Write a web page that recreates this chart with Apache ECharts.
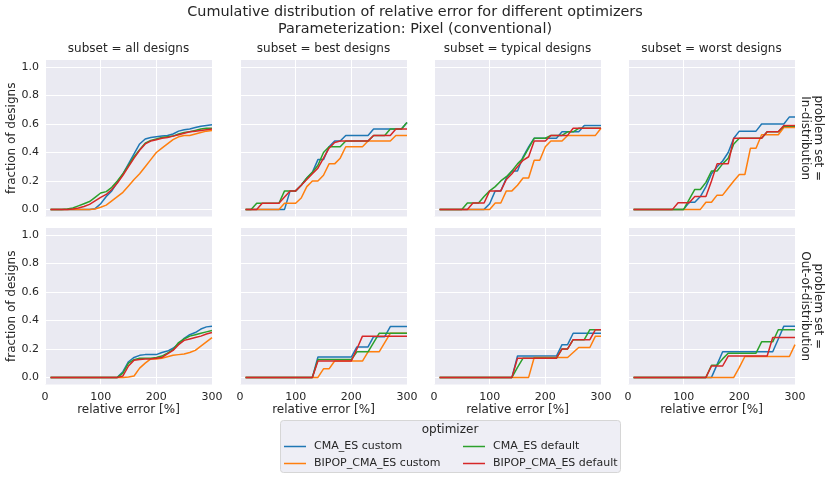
<!DOCTYPE html>
<html><head><meta charset="utf-8">
<script src="https://cdn.jsdelivr.net/npm/echarts@6/dist/echarts.min.js"></script>
<style>html,body{margin:0;padding:0;background:#fff}#c{width:830px;height:479px}</style>
</head><body><div id="c"></div>
<script>
const relErr = [10,20,30,40,50,60,70,80,90,100,110,120,130,140,150,160,170,180,190,200,210,220,230,240,250,260,270,280,290,300];
const optimizers = ['CMA_ES custom','BIPOP_CMA_ES custom','CMA_ES default','BIPOP_CMA_ES default'];
const subsets = ['subset = all designs','subset = best designs','subset = typical designs','subset = worst designs'];
const problemSets = ['In-distribution','Out-of-distribution'];
const xTicks = [0,100,200,300];
const yTicks = [0,0.2,0.4,0.6,0.8,1.0];

// In-distribution
const inAll_cmaCustom   = [0,0,0,0,0,0,0,0,0.005,0.04,0.09,0.13,0.19,0.25,0.32,0.39,0.46,0.495,0.505,0.51,0.515,0.52,0.53,0.55,0.56,0.565,0.575,0.585,0.59,0.595];
const inAll_bipopCustom = [0,0,0,0,0,0,0,0,0.003,0.015,0.03,0.06,0.09,0.12,0.165,0.21,0.25,0.3,0.35,0.4,0.43,0.46,0.49,0.51,0.52,0.52,0.53,0.54,0.55,0.555];
const inAll_cmaDefault  = [0,0,0,0.003,0.01,0.025,0.04,0.055,0.085,0.115,0.125,0.155,0.2,0.25,0.31,0.37,0.42,0.465,0.485,0.495,0.505,0.51,0.515,0.53,0.54,0.545,0.555,0.565,0.57,0.57];
const inAll_bipopDefault= [0,0,0,0,0.003,0.01,0.02,0.035,0.06,0.085,0.105,0.14,0.185,0.24,0.3,0.36,0.415,0.46,0.48,0.49,0.5,0.505,0.515,0.525,0.535,0.545,0.55,0.555,0.56,0.565];

const inBest_cmaCustom   = [0,0,0,0,0,0,0,0,0.13,0.13,0.17,0.22,0.26,0.35,0.35,0.44,0.48,0.48,0.52,0.52,0.52,0.52,0.52,0.565,0.565,0.565,0.565,0.565,0.565,0.61];
const inBest_bipopCustom = [0,0,0,0,0,0,0,0.043,0.043,0.043,0.08,0.16,0.2,0.2,0.24,0.32,0.32,0.36,0.44,0.44,0.44,0.44,0.48,0.48,0.48,0.48,0.48,0.52,0.52,0.52];
const inBest_cmaDefault  = [0,0,0.043,0.043,0.043,0.043,0.043,0.13,0.13,0.13,0.17,0.22,0.26,0.31,0.4,0.44,0.44,0.44,0.48,0.48,0.48,0.48,0.48,0.52,0.52,0.52,0.565,0.565,0.565,0.61];
const inBest_bipopDefault= [0,0,0,0.043,0.043,0.043,0.043,0.087,0.13,0.13,0.17,0.21,0.25,0.29,0.36,0.43,0.47,0.48,0.48,0.48,0.48,0.48,0.48,0.52,0.52,0.52,0.52,0.565,0.565,0.565];

const inTyp_cmaCustom   = [0,0,0,0,0,0,0,0,0,0.04,0.13,0.13,0.22,0.27,0.27,0.37,0.44,0.5,0.5,0.5,0.5,0.5,0.545,0.545,0.545,0.545,0.59,0.59,0.59,0.59];
const inTyp_bipopCustom = [0,0,0,0,0,0,0,0,0,0,0.045,0.045,0.13,0.13,0.17,0.22,0.22,0.345,0.345,0.44,0.48,0.48,0.48,0.52,0.52,0.52,0.52,0.52,0.52,0.57];
const inTyp_cmaDefault  = [0,0,0,0,0,0.045,0.045,0.045,0.09,0.13,0.16,0.2,0.23,0.27,0.32,0.36,0.43,0.5,0.5,0.5,0.52,0.52,0.52,0.545,0.545,0.57,0.57,0.57,0.57,0.57];
const inTyp_bipopDefault= [0,0,0,0,0,0,0.045,0.045,0.045,0.13,0.13,0.13,0.21,0.25,0.3,0.345,0.37,0.48,0.48,0.48,0.52,0.52,0.52,0.52,0.57,0.57,0.57,0.57,0.57,0.57];

const inWorst_cmaCustom   = [0,0,0,0,0,0,0,0,0,0,0.05,0.05,0.09,0.16,0.25,0.3,0.34,0.4,0.5,0.55,0.55,0.55,0.55,0.6,0.6,0.6,0.6,0.6,0.65,0.65];
const inWorst_bipopCustom = [0,0,0,0,0,0,0,0,0,0,0,0,0,0.05,0.05,0.1,0.1,0.15,0.2,0.245,0.245,0.43,0.43,0.525,0.525,0.525,0.525,0.575,0.575,0.575];
const inWorst_cmaDefault  = [0,0,0,0,0,0,0,0,0,0,0.07,0.14,0.14,0.19,0.27,0.27,0.32,0.36,0.46,0.5,0.5,0.5,0.5,0.5,0.545,0.545,0.545,0.585,0.585,0.585];
const inWorst_bipopDefault= [0,0,0,0,0,0,0,0,0.047,0.047,0.047,0.09,0.09,0.09,0.2,0.32,0.32,0.32,0.5,0.5,0.5,0.5,0.5,0.5,0.545,0.545,0.545,0.59,0.59,0.59];

// Out-of-distribution
const ooAll_cmaCustom   = [0,0,0,0,0,0,0,0,0,0,0,0,0,0.04,0.11,0.14,0.155,0.16,0.16,0.16,0.175,0.185,0.205,0.235,0.275,0.3,0.315,0.34,0.355,0.36];
const ooAll_bipopCustom = [0,0,0,0,0,0,0,0,0,0,0,0,0,0,0.003,0.01,0.065,0.1,0.13,0.13,0.135,0.145,0.155,0.16,0.165,0.175,0.19,0.22,0.25,0.28];
const ooAll_cmaDefault  = [0,0,0,0,0,0,0,0,0,0,0,0,0,0.03,0.1,0.125,0.135,0.135,0.135,0.14,0.15,0.17,0.195,0.245,0.27,0.29,0.3,0.31,0.32,0.33];
const ooAll_bipopDefault= [0,0,0,0,0,0,0,0,0,0,0,0,0,0.01,0.08,0.12,0.125,0.13,0.13,0.135,0.14,0.165,0.19,0.23,0.26,0.27,0.28,0.29,0.305,0.315];

const ooBest_cmaCustom   = [0,0,0,0,0,0,0,0,0,0,0,0,0,0.143,0.143,0.143,0.143,0.143,0.143,0.143,0.214,0.214,0.214,0.286,0.286,0.286,0.357,0.357,0.357,0.357];
const ooBest_bipopCustom = [0,0,0,0,0,0,0,0,0,0,0,0,0,0,0.06,0.06,0.115,0.115,0.115,0.115,0.115,0.115,0.18,0.18,0.18,0.245,0.31,0.31,0.31,0.31];
const ooBest_cmaDefault  = [0,0,0,0,0,0,0,0,0,0,0,0,0,0.125,0.125,0.125,0.125,0.125,0.125,0.125,0.18,0.18,0.18,0.245,0.31,0.31,0.31,0.31,0.31,0.31];
const ooBest_bipopDefault= [0,0,0,0,0,0,0,0,0,0,0,0,0,0.115,0.115,0.115,0.115,0.115,0.115,0.115,0.2,0.29,0.29,0.29,0.29,0.29,0.29,0.29,0.29,0.29];

const ooTyp_cmaCustom   = [0,0,0,0,0,0,0,0,0,0,0,0,0,0,0.15,0.15,0.15,0.15,0.15,0.15,0.15,0.15,0.23,0.23,0.31,0.31,0.31,0.31,0.31,0.31];
const ooTyp_bipopCustom = [0,0,0,0,0,0,0,0,0,0,0,0,0,0,0,0,0,0.14,0.14,0.14,0.14,0.14,0.14,0.14,0.175,0.21,0.21,0.21,0.29,0.29];
const ooTyp_cmaDefault  = [0,0,0,0,0,0,0,0,0,0,0,0,0,0,0.07,0.135,0.135,0.135,0.135,0.135,0.135,0.135,0.2,0.2,0.265,0.265,0.265,0.335,0.335,0.335];
const ooTyp_bipopDefault= [0,0,0,0,0,0,0,0,0,0,0,0,0,0,0.135,0.135,0.135,0.135,0.135,0.135,0.135,0.135,0.2,0.2,0.265,0.265,0.265,0.265,0.335,0.335];

const ooWorst_cmaCustom   = [0,0,0,0,0,0,0,0,0,0,0,0,0,0,0,0.09,0.18,0.18,0.18,0.18,0.18,0.18,0.18,0.18,0.18,0.18,0.27,0.36,0.36,0.36];
const ooWorst_bipopCustom = [0,0,0,0,0,0,0,0,0,0,0,0,0,0,0,0,0,0,0,0.07,0.147,0.147,0.147,0.147,0.147,0.147,0.147,0.147,0.147,0.23];
const ooWorst_cmaDefault  = [0,0,0,0,0,0,0,0,0,0,0,0,0,0,0.085,0.085,0.13,0.17,0.17,0.17,0.17,0.17,0.17,0.25,0.25,0.25,0.335,0.335,0.335,0.335];
const ooWorst_bipopDefault= [0,0,0,0,0,0,0,0,0,0,0,0,0,0,0.08,0.08,0.08,0.15,0.15,0.15,0.15,0.15,0.15,0.15,0.15,0.28,0.28,0.28,0.28,0.28];

const panels = [
  [inAll_cmaCustom,inAll_bipopCustom,inAll_cmaDefault,inAll_bipopDefault],
  [inBest_cmaCustom,inBest_bipopCustom,inBest_cmaDefault,inBest_bipopDefault],
  [inTyp_cmaCustom,inTyp_bipopCustom,inTyp_cmaDefault,inTyp_bipopDefault],
  [inWorst_cmaCustom,inWorst_bipopCustom,inWorst_cmaDefault,inWorst_bipopDefault],
  [ooAll_cmaCustom,ooAll_bipopCustom,ooAll_cmaDefault,ooAll_bipopDefault],
  [ooBest_cmaCustom,ooBest_bipopCustom,ooBest_cmaDefault,ooBest_bipopDefault],
  [ooTyp_cmaCustom,ooTyp_bipopCustom,ooTyp_cmaDefault,ooTyp_bipopDefault],
  [ooWorst_cmaCustom,ooWorst_bipopCustom,ooWorst_cmaDefault,ooWorst_bipopDefault]
];
const colors = ['#1f77b4','#ff7f0e','#2ca02c','#d62728'];

const colLeft = [45, 240, 434, 628];
const panelW = 167;
const rowTop = [60, 228];
const panelH = 156.5;
const TXT = '#262626';
const FONT = 'DejaVu Sans';

const grids = [], xAxes = [], yAxes = [], series = [], graphics = [];
for (let r = 0; r < 2; r++) {
  for (let c = 0; c < 4; c++) {
    const i = r*4 + c;
    grids.push({left: colLeft[c], top: rowTop[r], width: panelW, height: panelH,
      show: true, backgroundColor: '#EAEAF2', borderWidth: 0, containLabel: false});
    xAxes.push({type: 'value', gridIndex: i, min: 0, max: 300,
      axisLine: {show: false}, axisTick: {show: false, customValues: xTicks},
      axisLabel: {show: r === 1, customValues: xTicks, color: TXT, fontSize: 11, fontFamily: FONT, margin: 7},
      splitLine: {show: true, lineStyle: {color: '#ffffff', width: 1}}});
    yAxes.push({type: 'value', gridIndex: i, min: -0.05, max: 1.05,
      axisLine: {show: false}, axisTick: {show: false, customValues: yTicks},
      axisLabel: {show: c === 0, customValues: yTicks, color: TXT, fontSize: 11, fontFamily: FONT, margin: 6,
        formatter: v => v.toFixed(1)},
      splitLine: {show: true, lineStyle: {color: '#ffffff', width: 1}}});
    for (let s = 0; s < 4; s++) {
      series.push({type: 'line', name: optimizers[s], xAxisIndex: i, yAxisIndex: i,
        data: relErr.map((x, k) => [x, panels[i][s][k]]),
        showSymbol: false, symbol: 'none', color: colors[s],
        lineStyle: {width: 1.5, color: colors[s]}, animation: false, z: 2 + s});
    }
  }
}

// titles
graphics.push({type: 'text', x: 415, y: 12, style: {text: 'Cumulative distribution of relative error for different optimizers',
  fill: TXT, font: '14.4px "DejaVu Sans"', align: 'center', verticalAlign: 'middle'}});
graphics.push({type: 'text', x: 415, y: 29, style: {text: 'Parameterization: Pixel (conventional)',
  fill: TXT, font: '14.4px "DejaVu Sans"', align: 'center', verticalAlign: 'middle'}});
for (let c = 0; c < 4; c++) {
  graphics.push({type: 'text', x: colLeft[c] + panelW/2, y: 49, style: {text: subsets[c],
    fill: TXT, font: '12px "DejaVu Sans"', align: 'center', verticalAlign: 'middle'}});
  graphics.push({type: 'text', x: colLeft[c] + panelW/2, y: 410, style: {text: 'relative error [%]',
    fill: TXT, font: '12px "DejaVu Sans"', align: 'center', verticalAlign: 'middle'}});
}
for (let r = 0; r < 2; r++) {
  const cy = rowTop[r] + panelH/2;
  graphics.push({type: 'text', x: 12, y: cy, rotation: Math.PI/2, style: {text: 'fraction of designs',
    fill: TXT, font: '12px "DejaVu Sans"', align: 'center', verticalAlign: 'middle'}});
  graphics.push({type: 'text', x: 818, y: cy, rotation: -Math.PI/2, style: {text: 'problem set =',
    fill: TXT, font: '12px "DejaVu Sans"', align: 'center', verticalAlign: 'middle'}});
  graphics.push({type: 'text', x: 805, y: cy, rotation: -Math.PI/2, style: {text: problemSets[r],
    fill: TXT, font: '12px "DejaVu Sans"', align: 'center', verticalAlign: 'middle'}});
}
// legend frame
graphics.push({type: 'rect', shape: {x: 280.5, y: 420.5, width: 340, height: 52, r: 3},
  style: {fill: '#EEEEF5', stroke: '#D6D6D6', lineWidth: 1}, z: -1});
graphics.push({type: 'text', x: 450, y: 430, style: {text: 'optimizer',
  fill: TXT, font: '12px "DejaVu Sans"', align: 'center', verticalAlign: 'middle'}});

const legendCommon = {orient: 'vertical', icon: 'rect', itemWidth: 22, itemHeight: 1.5, itemGap: 6,
  textStyle: {color: TXT, fontSize: 11, fontFamily: FONT, padding: [0,0,0,3]}, padding: 0, selectedMode: false};

const chart = echarts.init(document.getElementById('c'), null, {renderer: 'canvas'});
chart.setOption({
  backgroundColor: '#ffffff',
  animation: false,
  textStyle: {fontFamily: FONT},
  grid: grids, xAxis: xAxes, yAxis: yAxes, series: series,
  legend: [
    Object.assign({}, legendCommon, {left: 284, top: 441, data: [optimizers[0], optimizers[1]]}),
    Object.assign({}, legendCommon, {left: 463, top: 441, data: [optimizers[2], optimizers[3]]})
  ],
  graphic: graphics
});
</script></body></html>
